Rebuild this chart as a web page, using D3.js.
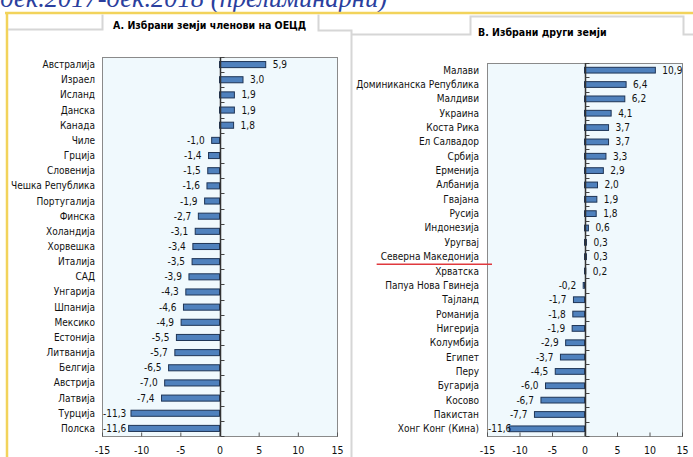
<!DOCTYPE html>
<html>
<head>
<meta charset="utf-8">
<script src="https://cdn.jsdelivr.net/npm/d3@7"></script>
<style>
  html, body { margin: 0; padding: 0; background: #fff; }
  svg { display: block; }
  .cat, .val, .tick text { font-family: "Liberation Sans Narrow", "Arial Narrow", "DejaVu Sans Condensed", sans-serif; font-size: 10px; fill: #111; }
  .tick text { font-size: 10.5px; }
  .ptitle { font-family: "Liberation Sans Narrow", "Arial Narrow", "DejaVu Sans Condensed", sans-serif; font-size: 10.5px; font-weight: bold; fill: #000; }
</style>
</head>
<body>
<svg id="chart" width="693" height="457"></svg>
<script>
// Panel A: selected OECD members
const oecdCountries = ['Австралија', 'Израел', 'Исланд', 'Данска', 'Канада', 'Чиле', 'Грција', 'Словенија',
  'Чешка Република', 'Португалија', 'Финска', 'Холандија', 'Хорвешка', 'Италија', 'САД', 'Унгарија',
  'Шпанија', 'Мексико', 'Естонија', 'Литванија', 'Белгија', 'Австрија', 'Латвија', 'Турција', 'Полска'];
const oecdValues = [5.9, 3.0, 1.9, 1.9, 1.8, -1.0, -1.4, -1.5, -1.6, -1.9, -2.7, -3.1, -3.4, -3.5, -3.9,
  -4.3, -4.6, -4.9, -5.5, -5.7, -6.5, -7.0, -7.4, -11.3, -11.6];

// Panel B: selected other countries
const otherCountries = ['Малави', 'Доминиканска Република', 'Малдиви', 'Украина', 'Коста Рика', 'Ел Салвадор',
  'Србија', 'Ерменија', 'Албанија', 'Гвајана', 'Русија', 'Индонезија', 'Уругвај', 'Северна Македонија',
  'Хрватска', 'Папуа Нова Гвинеја', 'Тајланд', 'Романија', 'Нигерија', 'Колумбија', 'Египет', 'Перу',
  'Бугарија', 'Косово', 'Пакистан', 'Хонг Конг (Кина)'];
const otherValues = [10.9, 6.4, 6.2, 4.1, 3.7, 3.7, 3.3, 2.9, 2.0, 1.9, 1.8, 0.6, 0.3, 0.3, 0.2, -0.2,
  -1.7, -1.8, -1.9, -2.9, -3.7, -4.5, -6.0, -6.7, -7.7, -11.6];

const xDomain = [-15, 15];
const xTicks = [-15, -10, -5, 0, 5, 10, 15];
const highlighted = 'Северна Македонија';

const locale = d3.formatLocale({ decimal: ',', thousands: '.', grouping: [3], currency: ['', ''], minus: '-' });
const fmtVal = locale.format('.1f');
const fmtTick = locale.format('d');

const svg = d3.select('#chart');

// header strip: cut-off subtitle and yellow rules
svg.append('text')
  .attr('x', 387).attr('y', 7)
  .attr('text-anchor', 'end')
  .style('font-family', '"Liberation Serif", serif')
  .style('font-style', 'italic')
  .style('font-size', '26.5px')
  .style('fill', '#2b3f9e')
  .text('дек.2017-дек.2018 (прелиминарни)');

svg.append('line').attr('x1', 5).attr('x2', 693).attr('y1', 13).attr('y2', 13)
  .attr('stroke', '#f2d35b').attr('stroke-width', 2.5);
svg.append('line').attr('x1', 7).attr('x2', 7).attr('y1', 12).attr('y2', 457)
  .attr('stroke', '#f2d35b').attr('stroke-width', 2.5);

// panel frames (tabs)
svg.append('path')
  .attr('d', 'M8,29.5H102.5V14.5M318.5,14.5V30.5H351.5V457')
  .attr('fill', 'none').attr('stroke', '#d6d6d6').attr('stroke-width', 2);
svg.append('path')
  .attr('d', 'M352,34.5H470.5V16.5H683.5V34.5H693')
  .attr('fill', 'none').attr('stroke', '#d6d6d6').attr('stroke-width', 2);

function drawPanel(cats, vals, box, title) {
  const g = svg.append('g');
  const data = cats.map((c, i) => ({ name: c, value: vals[i] }));

  const x = d3.scaleLinear().domain(xDomain).range([box.left, box.right]);
  const y = d3.scaleBand().domain(cats).range([box.top, box.bottom])
    .paddingInner(0.6).paddingOuter(0.3);

  g.append('text')
    .attr('class', 'ptitle')
    .attr('x', box.titleX).attr('y', box.titleY)
    .text(title);

  g.append('rect')
    .attr('x', box.left + 0.5).attr('y', box.top + 0.5)
    .attr('width', box.right - box.left).attr('height', box.bottom - box.top)
    .attr('fill', '#f0f9fd').attr('stroke', '#8a8a8a');

  // x axis (ticks pointing inward)
  const ax = g.append('g')
    .attr('transform', `translate(0,${box.bottom + 0.5})`)
    .call(d3.axisBottom(x).tickValues(xTicks).tickFormat(fmtTick)
      .tickSizeInner(-4).tickSizeOuter(0).tickPadding(10));
  ax.select('.domain').remove();
  ax.selectAll('.tick line').attr('stroke', '#555');
  ax.selectAll('.tick text').attr('fill', '#111');

  // bars
  g.selectAll('.bar')
    .data(data)
    .enter()
      .append('rect')
      .attr('class', 'bar')
      .attr('x', d => x(Math.min(0, d.value)))
      .attr('y', d => y(d.name))
      .attr('width', d => Math.abs(x(d.value) - x(0)))
      .attr('height', y.bandwidth())
      .attr('fill', '#4f81bd')
      .attr('stroke', '#1f3556')
      .attr('stroke-width', 1);

  // zero axis with category ticks
  const x0 = Math.round(x(0)) + 0.5;
  g.append('line')
    .attr('x1', x0).attr('x2', x0).attr('y1', box.top).attr('y2', box.bottom)
    .attr('stroke', '#333').attr('stroke-width', 1.5);
  const bounds = cats.map(c => y(c) - y.step() * y.paddingOuter()).concat([box.bottom]);
  g.selectAll('.ctick')
    .data(bounds)
    .enter()
      .append('line')
      .attr('x1', x0).attr('x2', x0 + 4)
      .attr('y1', d => Math.round(d) + 0.5).attr('y2', d => Math.round(d) + 0.5)
      .attr('stroke', '#444');

  // category labels
  const labels = g.selectAll('.cat')
    .data(data)
    .enter()
      .append('text')
      .attr('class', 'cat')
      .attr('x', box.labelX)
      .attr('y', d => y(d.name) + y.bandwidth() / 2)
      .attr('dy', '0.35em')
      .attr('text-anchor', 'end')
      .text(d => d.name);

  // value labels, kept inside the plot area
  g.selectAll('.val')
    .data(data)
    .enter()
      .append('text')
      .attr('class', 'val')
      .attr('y', d => y(d.name) + y.bandwidth() / 2)
      .attr('dy', '0.35em')
      .text(d => fmtVal(d.value))
      .attr('x', function(d) {
        const w = this.getComputedTextLength();
        if (d.value >= 0) return Math.min(x(d.value) + 7, box.right - w + 1);
        return Math.max(x(d.value) - 7 - w, box.left + 1);
      });

  // highlight underline
  labels.filter(d => d.name === highlighted).each(function(d) {
    const bb = this.getBBox();
    g.append('line')
      .attr('x1', bb.x - 4).attr('x2', box.left + 5)
      .attr('y1', y(d.name) + y.bandwidth() / 2 + 7.5)
      .attr('y2', y(d.name) + y.bandwidth() / 2 + 7.5)
      .attr('stroke', '#e0393e').attr('stroke-width', 1.5);
  });
}

drawPanel(oecdCountries, oecdValues,
  { left: 102, right: 337, top: 57, bottom: 436, labelX: 95, titleX: 113, titleY: 29 },
  'A. Избрани земји членови на ОЕЦД');
drawPanel(otherCountries, otherValues,
  { left: 487, right: 682, top: 63, bottom: 436, labelX: 479, titleX: 478, titleY: 36 },
  'B. Избрани други земји');
</script>
</body>
</html>
